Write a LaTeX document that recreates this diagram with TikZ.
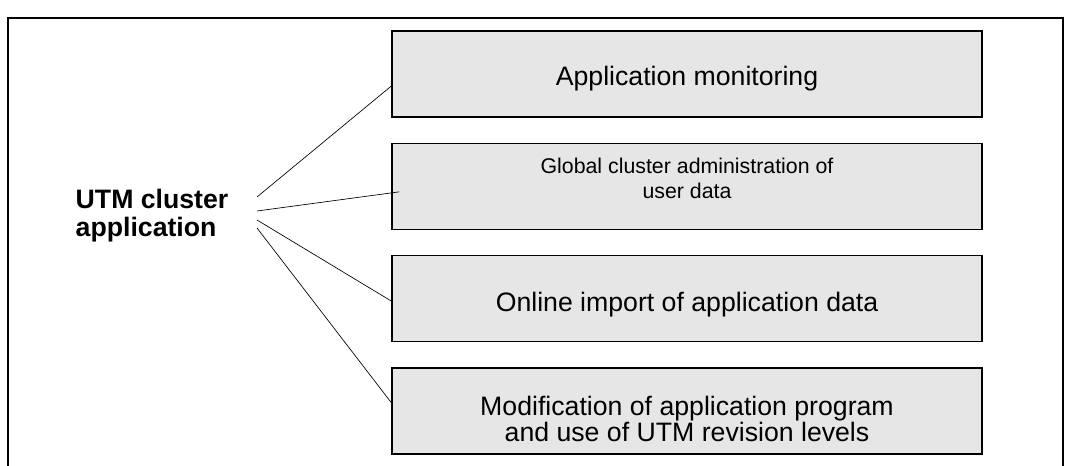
\documentclass[tikz,border=0pt]{standalone}
\usepackage{fontspec}
\setmainfont{Liberation Sans}
\usetikzlibrary{positioning,calc}
\definecolor{boxgray}{RGB}{230,230,230}

\begin{document}
\begin{tikzpicture}[x=0.75pt, y=-0.75pt, node distance=18.75pt,
    item/.style={draw, line width=1pt, fill=boxgray, minimum width=442.5pt, minimum height=64.5pt, align=center, inner sep=0pt, font=\fontsize{20}{19.5}\selectfont},
    small/.style={font=\fontsize{16}{18.75}\selectfont},
    link/.style={line width=0.5pt}]
    \useasboundingbox (0,0) rectangle (1070,466);

    % outer frame (open at the bottom)
    \draw[line width=1.1pt] (8,466) -- (8,18) -- (1063,18) -- (1063,466);

    % the cluster application and its four features
    \node[font=\bfseries\fontsize{20}{21}\selectfont, align=left, anchor=west] (app) at (71,216) {UTM cluster\\application};
    \node[item, text height=22pt] (monitor) at (687,74) {Application monitoring};
    \node[item, small, text depth=11.6pt, below=of monitor] (admin) {Global cluster administration of\\user data};
    \node[item, text height=23.6pt, below=of admin] (import) {Online import of application data};
    \node[item, text height=46pt, below=of import] (modify) {Modification of application program\\and use of UTM revision levels};

    % free ends of the connectors next to the label
    \coordinate (s1) at (257,197);
    \coordinate (s2) at (257,211);
    \coordinate (s3) at (257,220);
    \coordinate (s4) at (257,228);

    % connectors
    \draw[link] (s1) -- ($(monitor.west)+(0,12)$);
    \draw[link] (s2) -- ($(admin.west)+(8,5.5)$);
    \draw[link] (s3) -- ($(import.west)+(1,3)$);
    \draw[link] (s4) -- ($(modify.west)+(1,-7)$);
\end{tikzpicture}
\end{document}
